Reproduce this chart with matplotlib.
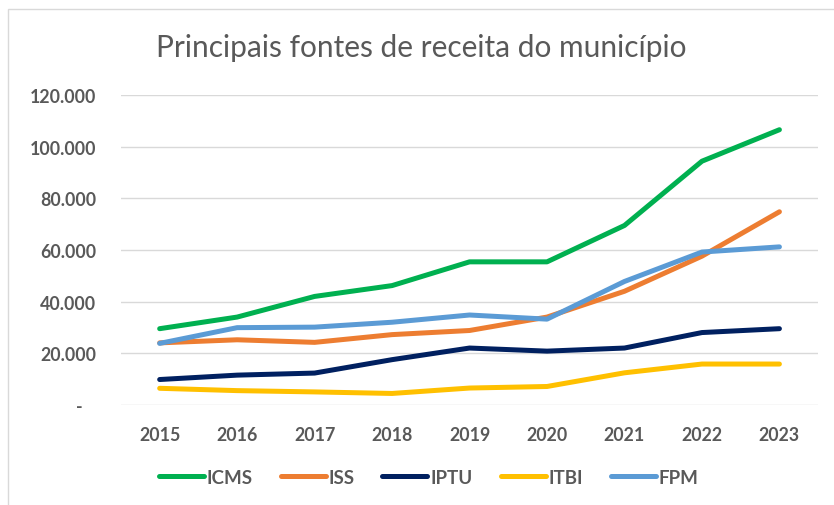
import matplotlib
matplotlib.use("Agg")
import matplotlib.pyplot as plt
from matplotlib.patches import Rectangle
from matplotlib.ticker import FuncFormatter

years = ["2015", "2016", "2017", "2018", "2019", "2020", "2021", "2022", "2023"]
icms = [29500, 34000, 42000, 46200, 55400, 55400, 69500, 94400, 106600]
iss = [24000, 25200, 24200, 27200, 28800, 34000, 44000, 57600, 74800]
iptu = [9800, 11500, 12300, 17500, 22000, 20800, 22000, 28000, 29500]
itbi = [6400, 5500, 5000, 4400, 6500, 7100, 12400, 15800, 15800]
fpm = [23800, 29900, 30100, 32000, 34800, 33200, 47800, 59200, 61200]

series = [("ICMS", icms, "#00b050"), ("ISS", iss, "#ed7d31"),
          ("IPTU", iptu, "#002060"), ("ITBI", itbi, "#ffc000"),
          ("FPM", fpm, "#5b9bd5")]

plt.rcParams['font.family'] = ['Lato', 'DejaVu Sans']
txt = "#595959"

fig = plt.figure(figsize=(8.34, 5.06), dpi=100)
# light border of the chart box
fig.patches.append(Rectangle((8 / 834, -0.1), 1.2, 1 - 10 / 506 + 0.1,
                             transform=fig.transFigure, fill=False,
                             edgecolor="#d9d9d9", linewidth=1))
ax = fig.add_axes([0.145, 0.198, 0.836, 0.612])

x = range(len(years))
for name, vals, col in series:
    ax.plot(x, vals, color=col, linewidth=3.6, label=name,
            solid_capstyle="round", solid_joinstyle="round")

ax.set_xlim(-0.5, len(years) - 0.5)
ax.set_ylim(0, 120000)
ax.set_yticks(range(0, 120001, 20000))
ax.yaxis.set_major_formatter(FuncFormatter(
    lambda v, p: "-\u00a0\u00a0\u00a0" if v == 0 else f"{int(v):,}".replace(",", ".")))
ax.set_xticks(list(x))
ax.set_xticklabels(years)
ax.grid(axis="y", color="#d9d9d9", linewidth=1)
ax.set_axisbelow(True)
for s in ax.spines.values():
    s.set_visible(False)
ax.tick_params(length=0, colors=txt, labelsize=12.8)
ax.tick_params(axis="y", pad=18)
ax.tick_params(axis="x", pad=15)
for lab in ax.get_xticklabels() + ax.get_yticklabels():
    lab.set_fontweight("bold")

fig.text(0.505, 0.905, "Principais fontes de receita do município",
         ha="center", va="center", fontsize=21.5, color=txt)

leg = fig.legend(loc="center", bbox_to_anchor=(0.514, 0.055), ncol=5,
                 frameon=False, handlelength=2.4, handletextpad=0.15,
                 columnspacing=1.5, prop={"weight": "bold", "size": 13.5})
for t in leg.get_texts():
    t.set_color(txt)

fig.savefig("out.png", dpi=100)
